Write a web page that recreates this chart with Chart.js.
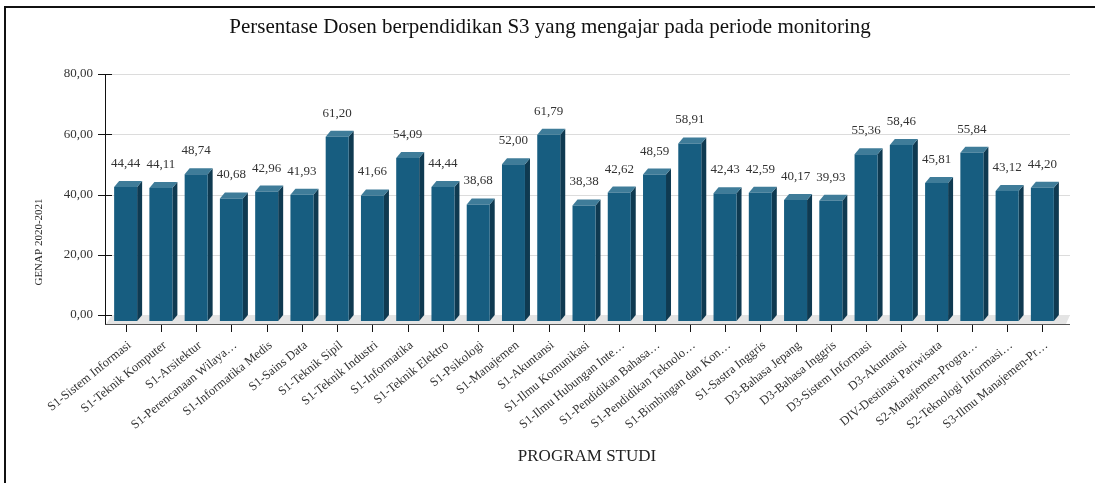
<!DOCTYPE html>
<html><head><meta charset="utf-8">
<script src="https://cdn.jsdelivr.net/npm/chart.js@4/dist/chart.umd.min.js"></script>
<style>html,body{margin:0;padding:0;background:#fff;}canvas{display:block;}</style>
</head><body>
<canvas id="c" width="1095" height="483"></canvas>
<script>
const chartTitle = "Persentase Dosen berpendidikan S3 yang mengajar pada periode monitoring";
const xAxisTitle = "PROGRAM STUDI";
const yAxisTitle = "GENAP 2020-2021";
const programs = [
  "S1-Sistem Informasi", "S1-Teknik Komputer", "S1-Arsitektur", "S1-Perencanaan Wilaya…",
  "S1-Informatika Medis", "S1-Sains Data", "S1-Teknik Sipil", "S1-Teknik Industri",
  "S1-Informatika", "S1-Teknik Elektro", "S1-Psikologi", "S1-Manajemen", "S1-Akuntansi",
  "S1-Ilmu Komunikasi", "S1-Ilmu Hubungan Inte…", "S1-Pendidikan Bahasa…",
  "S1-Pendidikan Teknolo…", "S1-Bimbingan dan Kon…", "S1-Sastra Inggris",
  "D3-Bahasa Jepang", "D3-Bahasa Inggris", "D3-Sistem Informasi", "D3-Akuntansi",
  "DIV-Destinasi Pariwisata", "S2-Manajemen-Progra…", "S2-Teknologi Informasi…",
  "S3-Ilmu Manajemen-Pr…"
];
const percentages = [
  44.44, 44.11, 48.74, 40.68, 42.96, 41.93, 61.20, 41.66, 54.09, 44.44, 38.68, 52.00, 61.79,
  38.38, 42.62, 48.59, 58.91, 42.43, 42.59, 40.17, 39.93, 55.36, 58.46, 45.81, 55.84, 43.12, 44.20
];
const yTickValues = [0, 20, 40, 60, 80];

const fmt = v => Number(v).toFixed(2).replace('.', ',');
const SERIF = "'Liberation Serif', 'Times New Roman', serif";
const DX = 5, DY = 6;
const COL_FRONT = '#175d80', COL_TOP = '#3f7c99', COL_SIDE = '#0f3a51';

const deco = {
  id: 'deco',
  beforeDraw(chart) {
    const ctx = chart.ctx, y = chart.scales.y, x = chart.scales.x;
    const ca = chart.chartArea;
    ctx.save();
    // frame
    ctx.strokeStyle = '#111'; ctx.lineWidth = 2;
    ctx.beginPath(); ctx.moveTo(5, 483); ctx.lineTo(5, 7); ctx.lineTo(1100, 7); ctx.stroke();
    // title
    ctx.fillStyle = '#111'; ctx.font = '21px ' + SERIF;
    ctx.textAlign = 'center'; ctx.textBaseline = 'middle';
    ctx.fillText(chartTitle, 550, 27);
    // axis titles
    ctx.fillStyle = '#222'; ctx.font = '17px ' + SERIF;
    ctx.fillText(xAxisTitle, 587, 457);
    ctx.save(); ctx.translate(39, 242); ctx.rotate(-Math.PI / 2);
    ctx.font = '11px ' + SERIF; ctx.fillText(yAxisTitle, 0, 0); ctx.restore();
    // gridlines
    const gl = ca.left - 2, gr = ca.right + 10;
    ctx.lineWidth = 1;
    yTickValues.forEach(v => {
      const py = Math.round(y.getPixelForValue(v)) + 0.5;
      ctx.strokeStyle = '#dcdcdc';
      ctx.beginPath(); ctx.moveTo(gl, py); ctx.lineTo(gr, py); ctx.stroke();
    });
    // floor
    const fb = y.getPixelForValue(0);
    ctx.fillStyle = '#e4e4e4';
    ctx.beginPath();
    ctx.moveTo(ca.left - 2, fb + 9); ctx.lineTo(ca.left + 4, fb);
    ctx.lineTo(gr, fb); ctx.lineTo(gr - 4, fb + 9); ctx.closePath(); ctx.fill();
    // x axis line
    ctx.strokeStyle = '#555';
    ctx.beginPath(); ctx.moveTo(105, fb + 9.5); ctx.lineTo(gr, fb + 9.5); ctx.stroke();
    // y axis
    ctx.strokeStyle = '#111';
    ctx.beginPath(); ctx.moveTo(105.5, y.getPixelForValue(80)); ctx.lineTo(105.5, fb + 9.5); ctx.stroke();
    yTickValues.forEach(v => {
      const py = Math.round(y.getPixelForValue(v)) + 0.5;
      ctx.beginPath(); ctx.moveTo(98, py); ctx.lineTo(112, py); ctx.stroke();
    });
    // x ticks
    programs.forEach((p, i) => {
      const px = Math.round(x.getPixelForTick(i)) + 0.5;
      ctx.beginPath(); ctx.moveTo(px, fb + 10); ctx.lineTo(px, fb + 17); ctx.stroke();
    });
    ctx.restore();
  },
  beforeDatasetsDraw(chart) {
    const ctx = chart.ctx;
    const meta = chart.getDatasetMeta(0);
    ctx.save();
    meta.data.forEach(el => {
      const {x, y, base, width} = el.getProps(['x', 'y', 'base', 'width'], true);
      const L = x - width / 2, R = x + width / 2;
      ctx.fillStyle = COL_SIDE;
      ctx.beginPath();
      ctx.moveTo(R, y + DY); ctx.lineTo(R + DX, y); ctx.lineTo(R + DX, base); ctx.lineTo(R, base + DY);
      ctx.closePath(); ctx.fill();
      ctx.fillStyle = COL_TOP;
      ctx.beginPath();
      ctx.moveTo(L, y + DY); ctx.lineTo(L + DX, y); ctx.lineTo(R + DX, y); ctx.lineTo(R, y + DY);
      ctx.closePath(); ctx.fill();
    });
    ctx.translate(0, DY);
  },
  afterDatasetsDraw(chart) {
    const ctx = chart.ctx;
    ctx.restore();
    const meta = chart.getDatasetMeta(0);
    ctx.save();
    ctx.fillStyle = '#333'; ctx.font = '13px ' + SERIF;
    ctx.textAlign = 'center'; ctx.textBaseline = 'middle';
    meta.data.forEach((el, i) => {
      const {x, y} = el.getProps(['x', 'y'], true);
      ctx.fillText(fmt(percentages[i]), x, y + DY - 23.5);
    });
    ctx.restore();
  }
};

new Chart(document.getElementById('c'), {
  type: 'bar',
  data: {
    labels: programs,
    datasets: [{
      data: percentages,
      backgroundColor: COL_FRONT,
      borderWidth: 0,
      barPercentage: 0.652,
      categoryPercentage: 1,
      clip: false
    }]
  },
  options: {
    responsive: false,
    animation: false,
    events: [],
    layout: { padding: { left: 0, right: 35, top: 74, bottom: 0 } },
    plugins: { legend: { display: false }, tooltip: { enabled: false }, title: { display: false } },
    scales: {
      x: {
        grid: { display: false },
        border: { display: false },
        ticks: {
          autoSkip: false, minRotation: 39, maxRotation: 39, padding: 15, labelOffset: 4,
          color: '#333', font: { family: SERIF, size: 12.5 }
        },
        afterFit(s) { s.height = 168; }
      },
      y: {
        min: 0, max: 80,
        grid: { display: false },
        border: { display: false },
        afterBuildTicks(s) { s.ticks = yTickValues.map(v => ({ value: v })); },
        ticks: {
          padding: 7, color: '#333', font: { family: SERIF, size: 13 },
          callback: v => fmt(v)
        },
        afterFit(s) { s.width = 108; }
      }
    }
  },
  plugins: [deco]
});
</script>
</body></html>
